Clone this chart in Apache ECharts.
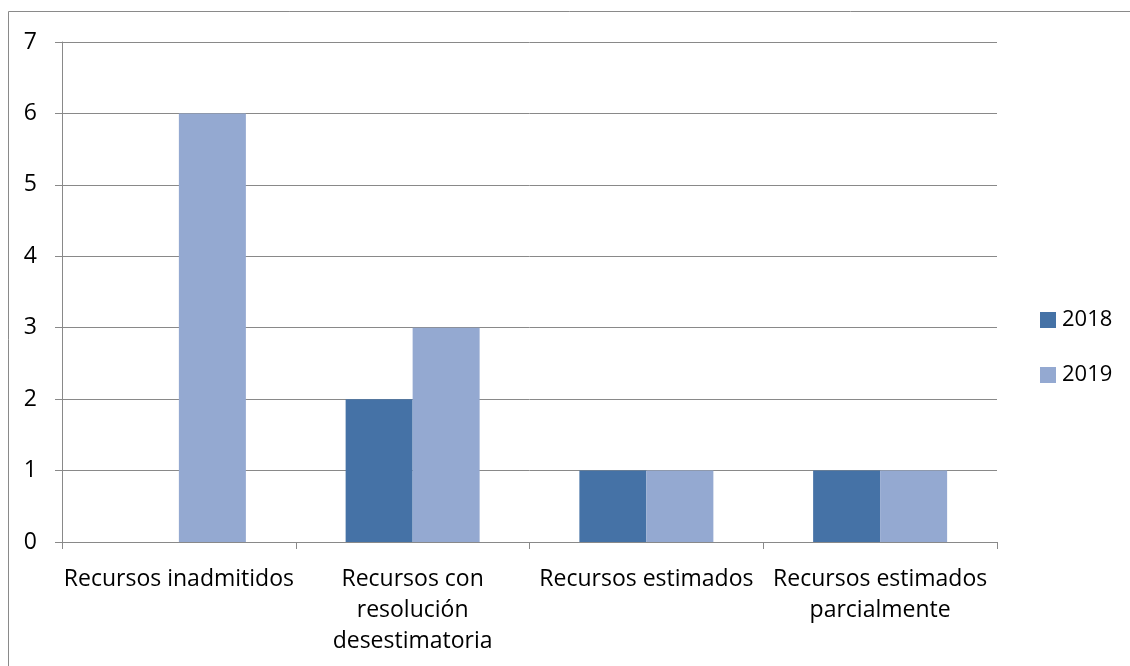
<!DOCTYPE html>
<html>
<head>
<meta charset="utf-8">
<script src="https://cdn.jsdelivr.net/npm/echarts@6/dist/echarts.min.js"></script>
<style>
html,body{margin:0;padding:0;background:#fff;}
#c{width:1130px;height:666px;}
</style>
</head>
<body>
<div id="c"></div>
<script>
const categories = [
  "Recursos inadmitidos",
  "Recursos con\nresolución\ndesestimatoria",
  "Recursos estimados",
  "Recursos estimados\nparcialmente"
];
const values2018 = [0, 2, 1, 1];
const values2019 = [6, 3, 1, 1];
const yTicks = { min: 0, max: 7, interval: 1 };

const FONT = "'Open Sans', 'Noto Sans', sans-serif";
const chart = echarts.init(document.getElementById('c'), null, { renderer: 'canvas' });
chart.setOption({
  animation: false,
  backgroundColor: '#ffffff',
  graphic: [{
    type: 'rect',
    shape: { x: 8.5, y: 11.5, width: 1200, height: 800 },
    style: { fill: 'none', stroke: '#8a8a8a', lineWidth: 1 },
    silent: true
  }],
  grid: { left: 62, right: 133, top: 42, bottom: 124, containLabel: false },
  legend: {
    orient: 'vertical',
    left: 1035,
    top: 304,
    itemWidth: 16,
    itemHeight: 16,
    itemGap: 33,
    icon: 'rect',
    textStyle: { fontFamily: FONT, fontSize: 22, color: '#000', padding: [0, 0, 0, 1] },
    data: ['2018', '2019']
  },
  xAxis: {
    type: 'category',
    data: categories,
    axisLine: { show: true, lineStyle: { color: '#898989', width: 1 } },
    axisTick: { show: true, length: 7, lineStyle: { color: '#898989' } },
    axisLabel: {
      fontFamily: FONT, fontSize: 23, color: '#000', margin: 22,
      lineHeight: 31, interval: 0
    },
    splitLine: { show: false }
  },
  yAxis: {
    type: 'value',
    min: yTicks.min, max: yTicks.max, interval: yTicks.interval,
    axisLine: { show: true, lineStyle: { color: '#898989', width: 1 } },
    axisTick: { show: true, length: 7, lineStyle: { color: '#898989' } },
    axisLabel: { fontFamily: FONT, fontSize: 23, color: '#000', margin: 25 },
    splitLine: { show: true, lineStyle: { color: '#898989', width: 1 } }
  },
  series: [
    {
      name: '2018', type: 'bar', data: values2018,
      barWidth: 67, barGap: '0%',
      itemStyle: { color: '#4572A6' }
    },
    {
      name: '2019', type: 'bar', data: values2019,
      barWidth: 67, barGap: '0%',
      itemStyle: { color: '#94A9D1' }
    }
  ]
});
</script>
</body>
</html>
